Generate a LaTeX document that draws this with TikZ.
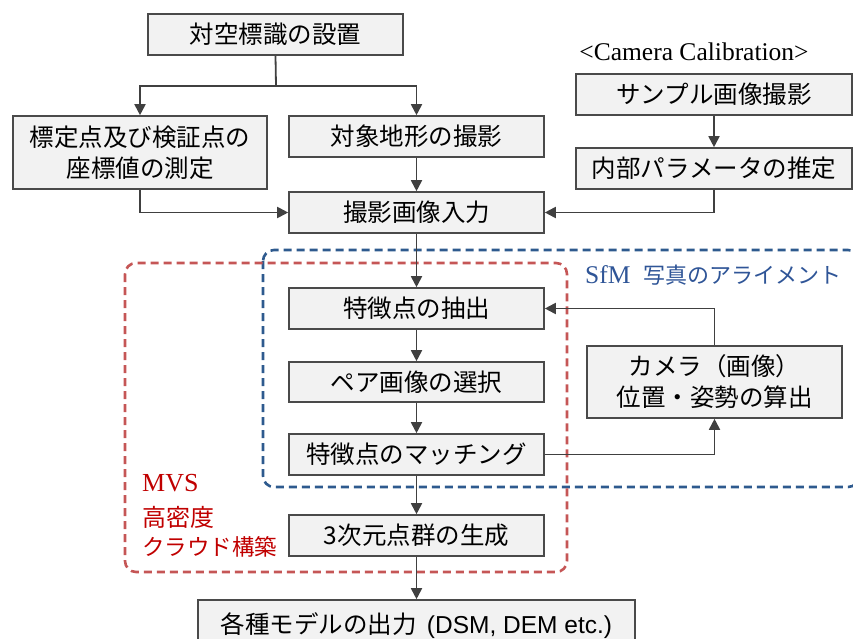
\documentclass[tikz,border=0pt]{standalone}
\usepackage{fontspec}
\setmainfont{Liberation Serif}
\newfontfamily\jp{Noto Sans CJK JP}
\newfontfamily\ars{Liberation Sans}
\usetikzlibrary{arrows.meta}
\definecolor{bd}{HTML}{4A4A4A}
\definecolor{bfill}{HTML}{F2F2F2}
\definecolor{ln}{HTML}{404040}
\definecolor{bluedash}{HTML}{2E5A8E}
\definecolor{reddash}{HTML}{C55656}
\definecolor{redtxt}{HTML}{C00000}
\definecolor{bluetxt}{HTML}{2F5597}
\tikzset{
  box/.style={draw=bd, fill=bfill, line width=1.6pt, inner sep=0pt, align=center,
    font=\jp\fontsize{24.5}{31}\selectfont, text=black},
  arr/.style={draw=ln, line width=1.8pt, -{Triangle[width=11pt,length=11pt]}},
  plain/.style={draw=ln, line width=1.8pt},
  bluebox/.style={draw=bluedash, line width=2.6pt, dash pattern=on 8pt off 5pt, rounded corners=11pt},
  redbox/.style={draw=reddash, line width=2.6pt, dash pattern=on 8pt off 5pt, rounded corners=11pt},
}
\begin{document}
\begin{tikzpicture}[x=1pt,y=-1pt]
\useasboundingbox (0,0) rectangle (853,639);
\clip (0,0) rectangle (853,639);

% dashed groups
\draw[bluebox] (263,250) rectangle (859,487);
\draw[redbox] (125,263) rectangle (567,572);

% boxes
\node[box, minimum width=255pt, minimum height=41pt] (mark) at (275.5,34.5) {対空標識の設置};
\node[box, minimum width=254pt, minimum height=73pt] (gcp) at (140,152.5) {標定点及び検証点の\\座標値の測定};
\node[box, minimum width=255pt, minimum height=41pt] (shoot) at (416.5,136.5) {対象地形の撮影};
\node[box, minimum width=255pt, minimum height=41pt] (input) at (416.5,212.5) {撮影画像入力};
\node[box, minimum width=276pt, minimum height=41pt] (sample) at (714,94.5) {サンプル画像撮影};
\node[box, minimum width=276pt, minimum height=41pt] (param) at (714,168.5) {内部パラメータの推定};
\node[box, minimum width=255pt, minimum height=41pt] (feat) at (416.5,308.5) {特徴点の抽出};
\node[box, minimum width=255pt, minimum height=40pt] (pair) at (416.5,382) {ペア画像の選択};
\node[box, minimum width=255pt, minimum height=41pt] (match) at (416.5,454.5) {特徴点のマッチング};
\node[box, minimum width=255pt, minimum height=41pt] (cloud) at (416.5,535.5) {3次元点群の生成};
\node[box, minimum width=255pt, minimum height=72pt] (cam) at (714.5,382) {カメラ（画像）\\位置・姿勢の算出};
\node[box, minimum width=437pt, minimum height=52pt] (out) at (416.5,626) {各種モデルの出力\hspace{10pt}{\ars(DSM, DEM etc.)}};

% labels
\node[font=\fontsize{25.5}{30}\selectfont, inner sep=0pt] (calib) at (694,52) {<Camera Calibration>};
\node[anchor=west, inner sep=0pt, text=bluetxt] (sfm) at (585,275)
  {\fontsize{25.5}{30}\selectfont SfM\hspace{13pt}{\jp\fontsize{22}{26}\selectfont 写真のアライメント}};
\node[anchor=west, inner sep=0pt, text=redtxt, font=\fontsize{26}{30}\selectfont] (mvs) at (142,483) {MVS};
\node[anchor=west, inner sep=0pt, text=redtxt, font=\jp\fontsize{24}{30}\selectfont] (dense) at (142,517) {高密度};
\node[anchor=west, inner sep=0pt, text=redtxt, font=\jp\fontsize{22.5}{30}\selectfont] (build) at (142,547) {クラウド構築};

% connectors
\coordinate (br) at (276,86);
\draw[plain] (mark.south) -- (br);
\draw[arr] (br) -| (gcp.north);
\draw[arr] (br) -| (shoot.north);
\draw[arr] (gcp.south) |- (input.west);
\draw[arr] (shoot) -- (input);
\draw[arr] (sample) -- (param);
\draw[arr] (param.south) |- (input.east);
\draw[arr] (input) -- (feat);
\draw[arr] (feat) -- (pair);
\draw[arr] (pair) -- (match);
\draw[arr] (match) -- (cloud);
\draw[arr] (cloud) -- (out);
\draw[arr] (cam.north) |- (feat.east);
\draw[arr] (match.east) -| (cam.south);
\end{tikzpicture}
\end{document}
